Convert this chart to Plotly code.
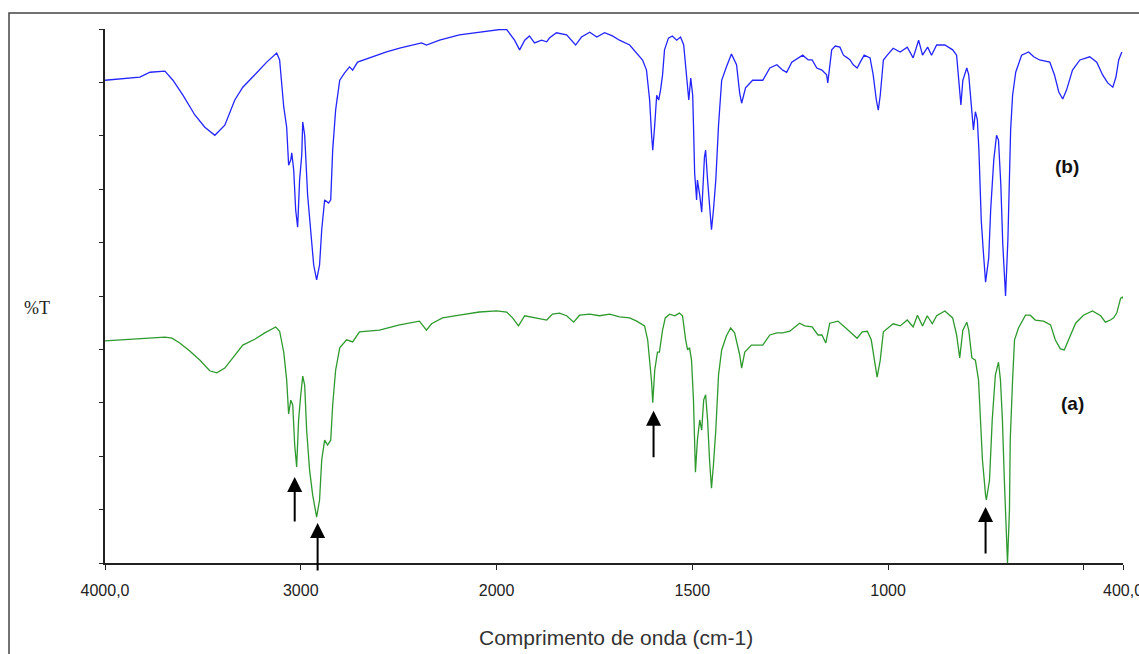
import plotly.graph_objects as go

# ---- data ----
# spectrum (b) - blue
wn_b = [4000, 3898, 3822, 3770, 3694, 3653, 3602, 3541, 3490, 3439, 3388, 3337, 3296, 3225, 3174, 3123,
        3108, 3087, 3072, 3062, 3051, 3046, 3036, 3026, 3016, 3006, 2995, 2990, 2980, 2965, 2949, 2934,
        2919, 2904, 2893, 2878, 2858, 2847, 2837, 2822, 2801, 2776, 2751, 2735, 2710, 2633, 2562, 2495,
        2383, 2358, 2291, 2190, 2088, 1992, 1974, 1954, 1941, 1928, 1916, 1903, 1885, 1872, 1865, 1847,
        1821, 1808, 1798, 1783, 1762, 1744, 1724, 1704, 1686, 1660, 1642, 1627, 1617, 1609, 1604, 1601,
        1596, 1591, 1586, 1581, 1576, 1571, 1561, 1551, 1540, 1530, 1522, 1515, 1509, 1504, 1499, 1497,
        1494, 1489, 1487, 1481, 1476, 1469, 1466, 1461, 1456, 1451, 1446, 1440, 1433, 1425, 1413, 1400,
        1387, 1379, 1374, 1364, 1346, 1320, 1302, 1284, 1269, 1259, 1246, 1226, 1218, 1204, 1194, 1182,
        1169, 1157, 1154, 1144, 1135, 1123, 1114, 1104, 1097, 1089, 1079, 1071, 1061, 1046, 1038, 1030,
        1025, 1020, 1012, 1002, 987, 969, 951, 936, 922, 912, 899, 889, 876, 855, 835, 825,
        820, 814, 809, 799, 794, 789, 782, 777, 772, 768, 762, 757, 751, 743, 738, 730,
        723, 718, 712, 707, 702, 700, 694, 687, 682, 674, 659, 641, 628, 613, 587, 575,
        564, 554, 544, 529, 510, 485, 467, 452, 439, 426, 418, 411, 403]
t_b = [90.4, 90.8, 91.0, 91.9, 92.1, 90.4, 87.6, 83.9, 81.6, 80.1, 82.0, 86.7, 89.1, 91.8, 93.8, 95.5,
       94.2, 85.4, 81.6, 74.5, 75.5, 76.8, 73.6, 66.1, 62.9, 71.7, 76.4, 82.6, 80.1, 68.9, 62.4, 55.8,
       53.0, 55.8, 62.4, 68.0, 67.4, 68.0, 77.3, 84.8, 90.4, 91.8, 92.9, 92.3, 93.8, 94.8, 95.7, 96.4,
       97.4, 97.0, 97.9, 98.9, 99.4, 99.9, 99.9, 97.9, 96.1, 97.9, 98.7, 97.4, 97.9, 97.6, 98.3, 99.3,
       98.9, 97.9, 97.0, 98.5, 99.4, 98.5, 99.3, 98.7, 97.9, 97.0, 95.5, 94.2, 92.3, 86.7, 80.1, 77.3,
       82.0, 87.6, 86.7, 88.6, 91.4, 96.1, 98.3, 98.7, 97.9, 98.5, 97.0, 91.4, 86.7, 90.8, 87.6, 82.0,
       73.0, 68.0, 71.7, 68.9, 65.7, 76.0, 77.3, 71.7, 66.1, 62.4, 66.1, 71.7, 82.0, 90.4, 92.9, 95.3,
       93.3, 88.0, 86.1, 89.0, 90.4, 90.4, 92.7, 93.3, 92.3, 91.9, 93.8, 94.8, 95.1, 94.2, 94.2, 92.7,
       92.3, 91.4, 89.9, 96.1, 96.8, 96.6, 95.1, 94.6, 94.2, 93.3, 92.7, 93.8, 95.1, 94.6, 91.4, 86.7,
       84.8, 87.6, 94.2, 95.1, 96.4, 95.7, 96.6, 94.6, 97.9, 95.1, 96.6, 95.1, 97.0, 97.0, 96.1, 95.1,
       90.4, 85.8, 90.4, 92.7, 91.4, 86.7, 81.1, 84.5, 83.0, 77.3, 64.2, 58.6, 52.6, 57.1, 66.1, 75.5,
       80.1, 79.2, 70.8, 59.6, 51.1, 50.0, 60.5, 81.1, 87.6, 91.9, 95.1, 95.7, 94.8, 94.2, 93.8, 91.4,
       88.2, 86.9, 88.6, 92.3, 94.2, 94.8, 93.8, 91.4, 89.9, 89.1, 91.0, 94.2, 95.7]

# spectrum (a) - green
wn_a = [4000, 3898, 3770, 3694, 3658, 3618, 3567, 3516, 3465, 3429, 3388, 3347, 3296, 3235, 3184, 3128,
        3108, 3087, 3072, 3062, 3051, 3041, 3031, 3021, 3011, 3000, 2990, 2980, 2970, 2955, 2939, 2919,
        2904, 2893, 2878, 2863, 2847, 2837, 2822, 2801, 2766, 2735, 2700, 2598, 2495, 2394, 2358, 2332,
        2276, 2190, 2088, 2000, 1974, 1959, 1944, 1928, 1903, 1872, 1857, 1839, 1821, 1803, 1788, 1762,
        1737, 1711, 1686, 1660, 1642, 1622, 1614, 1609, 1604, 1601, 1596, 1589, 1584, 1576, 1569, 1558,
        1545, 1533, 1525, 1517, 1512, 1507, 1502, 1497, 1492, 1487, 1481, 1476, 1471, 1466, 1461, 1456,
        1451, 1446, 1440, 1433, 1425, 1413, 1402, 1392, 1379, 1374, 1366, 1349, 1320, 1302, 1284, 1269,
        1251, 1226, 1213, 1194, 1179, 1169, 1159, 1149, 1128, 1111, 1093, 1079, 1066, 1053, 1043, 1035,
        1028, 1020, 1012, 987, 969, 951, 936, 925, 912, 900, 887, 876, 855, 835, 825, 817,
        809, 799, 794, 786, 777, 769, 764, 759, 751, 749, 741, 734, 726, 718, 713, 708,
        703, 698, 695, 690, 688, 682, 677, 667, 649, 637, 624, 603, 585, 573, 560, 550,
        539, 521, 501, 478, 457, 445, 432, 424, 416, 406, 401, 398]
t_a = [41.6, 41.8, 42.1, 42.3, 42.1, 41.2, 39.7, 38.0, 36.0, 35.6, 36.5, 38.4, 40.8, 41.9, 43.1, 44.2,
       43.4, 39.5, 34.3, 27.9, 30.5, 29.6, 22.1, 18.0, 26.8, 31.5, 35.0, 33.3, 24.9, 17.4, 12.7, 8.6,
       11.8, 19.3, 23.0, 22.1, 23.0, 29.6, 36.1, 40.3, 41.8, 41.4, 43.3, 43.6, 44.6, 45.3, 43.6, 44.8,
       45.9, 46.4, 47.0, 47.2, 47.0, 45.9, 44.4, 46.3, 45.9, 45.5, 46.6, 46.8, 46.3, 45.1, 46.4, 46.6,
       46.3, 46.6, 46.1, 45.9, 45.3, 44.4, 41.8, 38.0, 33.9, 30.0, 36.1, 39.5, 39.5, 43.6, 45.9, 46.6,
       46.3, 46.8, 46.3, 41.8, 39.9, 40.3, 38.0, 30.5, 17.0, 23.0, 26.8, 24.9, 30.5, 31.5, 26.8, 19.3,
       14.0, 18.4, 24.9, 35.2, 39.9, 42.5, 44.0, 43.1, 39.0, 36.5, 39.5, 40.8, 40.8, 42.7, 43.1, 43.1,
       43.4, 44.9, 44.4, 44.2, 42.7, 42.7, 41.2, 44.9, 45.3, 44.2, 43.1, 42.1, 43.3, 43.4, 41.8, 38.0,
       34.8, 38.0, 43.3, 44.8, 44.4, 45.5, 44.2, 46.4, 44.4, 46.3, 44.8, 46.3, 47.2, 45.9, 42.7, 38.4,
       43.6, 45.1, 43.6, 38.4, 38.0, 34.3, 26.8, 19.3, 12.7, 11.8, 15.5, 26.8, 35.2, 37.6, 34.3, 26.8,
       15.5, 3.4, 0.0, 9.9, 23.0, 34.3, 41.8, 44.0, 46.4, 46.4, 45.5, 45.3, 44.6, 41.8, 40.1, 39.9,
       41.8, 44.9, 46.4, 47.2, 46.3, 45.1, 45.5, 45.9, 46.8, 49.6, 49.8, 49.3]

# tick labels of the wavenumber axis
tick_wn = [4000, 3000, 2000, 1500, 1000, 500, 400]
tick_txt = ["4000,0", "3000", "2000", "1500", "1000", "", "400,0"]

# marked bands (arrow position, tip and tail in %T)
arrow_wn = [3031, 2914, 1599, 751]
arrow_tip = [16.1, 7.5, 28.5, 10.5]
arrow_tail = [7.5, -1.7, 19.5, 1.5]


# the instrument plot uses a 2x expanded scale below 2000 cm-1
def xt(w):
    return w if w <= 2000 else 2000 + (w - 2000) / 2.0


fig = go.Figure()
fig.add_trace(go.Scatter(x=[xt(w) for w in wn_b], y=t_b, mode="lines",
                         line=dict(color="#2424FF", width=1.3), showlegend=False))
fig.add_trace(go.Scatter(x=[xt(w) for w in wn_a], y=t_a, mode="lines",
                         line=dict(color="#2E9A2E", width=1.3), showlegend=False))

for w, tip, tail in zip(arrow_wn, arrow_tip, arrow_tail):
    fig.add_annotation(x=xt(w), y=tip, ax=xt(w), ay=tail, xref="x", yref="y",
                       axref="x", ayref="y", showarrow=True, arrowhead=2,
                       arrowsize=1.5, arrowwidth=2, arrowcolor="black", text="")

fig.add_annotation(x=0.945, y=0.742, xref="paper", yref="paper", text="<b>(b)</b>",
                   xanchor="center", yanchor="middle", showarrow=False,
                   font=dict(family="Liberation Sans", size=19, color="#111"))
fig.add_annotation(x=0.95, y=0.298, xref="paper", yref="paper", text="<b>(a)</b>",
                   xanchor="center", yanchor="middle", showarrow=False,
                   font=dict(family="Liberation Sans", size=19, color="#111"))
fig.add_annotation(x=-0.0668, y=0.4775, xref="paper", yref="paper", text="%T",
                   xanchor="center", yanchor="middle", showarrow=False,
                   font=dict(family="Liberation Serif", size=18, color="#222"))
fig.add_annotation(x=0.502, y=-0.1386, xref="paper", yref="paper",
                   text="Comprimento de onda (cm-1)", showarrow=False,
                   xanchor="center", yanchor="middle",
                   font=dict(family="Liberation Sans", size=21, color="#333"))

# outer frame of the figure
fig.add_shape(type="rect", xref="paper", yref="paper", x0=-0.0943, x1=1.06,
              y0=-0.25, y1=1.03, line=dict(color="#444", width=1.5), layer="below")

fig.update_xaxes(range=[xt(4000), xt(400)], tickmode="array",
                 tickvals=[xt(w) for w in tick_wn], ticktext=tick_txt,
                 showline=True, linecolor="#222", linewidth=1.5, ticks="outside",
                 ticklen=5, tickcolor="#222", showgrid=False, zeroline=False,
                 ticklabelstandoff=7, ticklabeloverflow="allow", automargin=False,
                 tickfont=dict(family="Liberation Sans", size=16, color="#222"))
fig.update_yaxes(range=[0, 100], dtick=10, tick0=0, showticklabels=False,
                 showline=True, linecolor="#222", linewidth=1.5, ticks="outside",
                 ticklen=4, tickcolor="#222", showgrid=False, zeroline=False,
                 automargin=False)

fig.update_layout(width=1139, height=654, margin=dict(l=105, r=16, t=29, b=91),
                  paper_bgcolor="white", plot_bgcolor="white")

fig.write_html("out.html")
